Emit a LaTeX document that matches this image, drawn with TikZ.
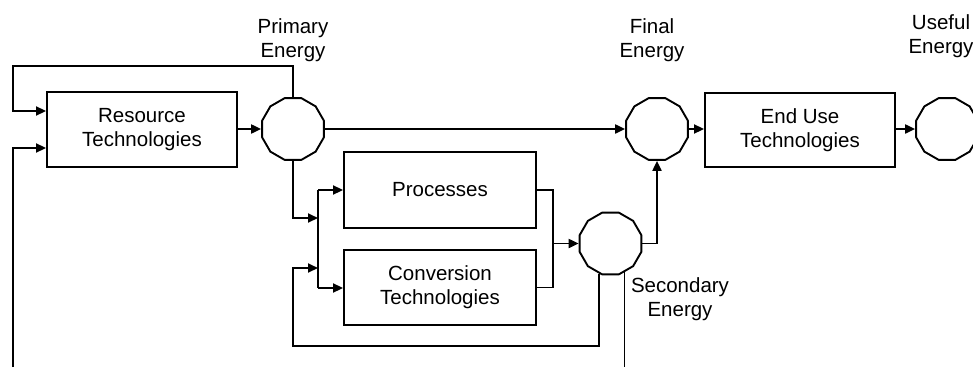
\documentclass[tikz,border=0pt]{standalone}
\usepackage{fontspec}
\setmainfont{Liberation Sans}
\usetikzlibrary{arrows.meta,shapes.geometric}
\begin{document}
\begin{tikzpicture}[x=1pt,y=-1pt,
  every node/.style={font=\fontsize{20.5}{24}\selectfont, align=center, inner sep=0pt},
  box/.style={draw, line width=1.9pt, minimum width=190pt, minimum height=75pt},
  hub/.style={draw, line width=1.9pt, regular polygon, regular polygon sides=12, minimum size=64pt},
  conn/.style={line width=1.9pt},
  arr/.style={conn, -{Triangle[length=10pt,width=9pt]}}]
\useasboundingbox (0,0) rectangle (973,367);
% boxes and hubs
\node[box] (res) at (142,129.5) {Resource\\Technologies};
\node[hub] (pe) at (293,129) {};
\node[hub] (fe) at (657,129) {};
\node[box, minimum height=74pt] (eu) at (800,130) {End Use\\Technologies};
\node[hub] (ue) at (947,129) {};
\node[box, minimum width=192pt, minimum height=76pt] (proc) at (440,190) {Processes};
\node[box, minimum width=192pt] (conv) at (440,287.5) {Conversion\\Technologies};
\node[hub] (se) at (610.5,243.5) {};
% labels
\node (lpe) at (293,40) {Primary\\Energy};
\node (lfe) at (652,40) {Final\\Energy};
\node (lue) at (941,36) {Useful\\Energy};
\node (lse) at (680,299) {Secondary\\Energy};
% helper coordinates
\coordinate (tl) at (13,66);
\coordinate (in1) at (13,111);
\coordinate (in2) at (13,148);
\coordinate (bl) at (13,367);
\coordinate (j) at (318,218);
\coordinate (jt) at (318,190);
\coordinate (jb) at (318,288);
\coordinate (fb) at (293,268);
\coordinate (lo) at (293,346);
\coordinate (m) at (553,243.5);
\coordinate (br) at (624,367);
% connectors
\draw[arr] (res.east |- pe.west) -- (pe.west);
\draw[arr] (pe.east) -- (fe.west);
\draw[arr] (fe.east) -- (eu.west |- fe.east);
\draw[arr] (eu.east |- ue.west) -- (ue.west);
\draw[arr] (pe.north) |- (tl) |- (res.west |- in1);
\draw[arr] (bl) |- (res.west |- in2);
\draw[arr] (pe.south) |- (j);
\draw[conn] (jt) -- (jb);
\draw[arr] (jt) -- (proc.west |- jt);
\draw[arr] (jb) -- (conv.west |- jb);
\draw[arr] (se.-111) |- (lo) -- (fb) -- (j |- fb);
\draw[conn] (proc.east) -| (m);
\draw[conn] (conv.east) -| (m);
\draw[arr] (m) -- (se.west);
\draw[arr] (se.east) -| (fe.south);
\draw[conn] (se.-64) -- (se.-64 |- br);
\end{tikzpicture}
\end{document}
